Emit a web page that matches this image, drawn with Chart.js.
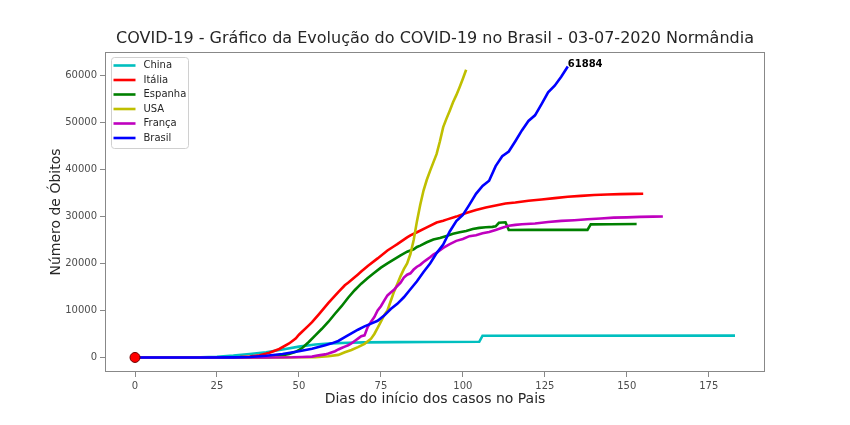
<!DOCTYPE html>
<html>
<head>
<meta charset="utf-8">
<script src="https://cdn.jsdelivr.net/npm/chart.js@4/dist/chart.umd.min.js"></script>
<style>
  html, body { margin: 0; padding: 0; background: #fff; }
  #wrap { width: 850px; height: 425px; }
</style>
</head>
<body>
<div id="wrap"><canvas id="myChart" width="850" height="425"></canvas></div>
<script>
const chartTitle = 'COVID-19 - Gráfico da Evolução do COVID-19 no Brasil - 03-07-2020 Normândia'
const xTicks = [0, 25, 50, 75, 100, 125, 150, 175]
const yTicks = [0, 10000, 20000, 30000, 40000, 50000, 60000]

const countries = ['China', 'Itália', 'Espanha', 'USA', 'França', 'Brasil']
const colors = ['#00bfbf', '#ff0000', '#008000', '#bfbf00', '#bf00bf', '#0000ff']

// days since the first case in each country, and accumulated deaths
const chinaDays = [0, 10, 20, 25, 30, 35, 40, 45, 50, 55, 60, 65, 70, 80, 90, 105, 106, 183]
const chinaDeaths = [0, 5, 30, 150, 400, 750, 1100, 1700, 2300, 2750, 3000, 3120, 3200, 3260, 3300, 3340, 4632, 4634]

const italyDays = [0, 21, 25, 29, 32, 35, 38, 41, 44, 47, 49, 50, 53, 54, 56, 59, 62, 64, 65, 68, 69, 71, 74, 77, 79, 80, 83, 84, 86, 89, 92, 94, 95, 98, 101, 104, 107, 110, 113, 116, 120, 124, 128, 132, 136, 140, 144, 148, 152, 155]
const italyDeaths = [0, 1, 7, 29, 80, 200, 460, 1020, 1810, 2980, 4030, 4830, 6820, 7500, 9130, 11590, 13920, 15360, 15890, 17670, 18280, 19470, 21070, 22750, 23660, 24110, 25550, 25970, 26640, 27680, 28710, 29080, 29320, 29960, 30740, 31370, 31910, 32330, 32740, 32960, 33340, 33600, 33900, 34170, 34370, 34560, 34680, 34740, 34790, 34820]

const spainDays = [0, 30, 35, 40, 43, 45, 47, 49, 51, 53, 55, 57, 59, 61, 63, 65, 67, 69, 71, 73, 75, 77, 79, 81, 83, 85, 86, 87, 89, 91, 93, 95, 97, 99, 101, 103, 105, 107, 109, 110, 111, 113, 114, 120, 138, 139, 145, 153]
const spainDeaths = [0, 0, 5, 35, 200, 450, 750, 1200, 2000, 3300, 4700, 6100, 7600, 9300, 10900, 12700, 14300, 15700, 16900, 18000, 19100, 20000, 20850, 21700, 22500, 23000, 23500, 23800, 24500, 25100, 25430, 25860, 26300, 26620, 26920, 27320, 27560, 27710, 27780, 27890, 28650, 28750, 27120, 27130, 27136, 28315, 28340, 28385]

const usaDays = [0, 38, 45, 50, 55, 59, 62, 64, 66, 68, 70, 72, 73, 74, 75, 76, 77, 78, 79, 80, 81, 82, 83, 84, 85, 86, 87, 88, 89, 90, 91, 92, 93, 94, 95, 96, 97, 98, 99, 100, 101]
const usaDeaths = [0, 0, 10, 30, 70, 250, 550, 1100, 1600, 2200, 2900, 4000, 5000, 6300, 7600, 9000, 10000, 12000, 14000, 15600, 17300, 18800, 20000, 22000, 25000, 29000, 32500, 35500, 37800, 39700, 41500, 43300, 46000, 49000, 50800, 52500, 54300, 55800, 57500, 59300, 61200]

const franceDays = [0, 22, 40, 48, 51, 54, 56, 58, 59, 61, 62, 63, 64, 65, 66, 67, 68, 69, 70, 71, 72, 73, 74, 75, 76, 77, 78, 79, 80, 81, 82, 83, 84, 85, 86, 87, 88, 89, 90, 91, 92, 94, 96, 98, 100, 102, 104, 106, 108, 110, 112, 114, 116, 118, 122, 126, 130, 134, 138, 142, 146, 150, 154, 158, 161]
const franceDeaths = [0, 1, 2, 30, 90, 175, 450, 650, 860, 1330, 1700, 2000, 2300, 2600, 3000, 3500, 4000, 4500, 4700, 6500, 7600, 8600, 10000, 10900, 12100, 13200, 13800, 14400, 15200, 15900, 17000, 17600, 17900, 18700, 19300, 19700, 20300, 20800, 21300, 21900, 22300, 23300, 24100, 24800, 25200, 25800, 26000, 26400, 26700, 27100, 27600, 28000, 28200, 28350, 28500, 28800, 29050, 29200, 29400, 29550, 29750, 29800, 29900, 29950, 30000]

const brazilDays = [0, 20, 30, 35, 40, 45, 50, 54, 58, 60, 62, 64, 66, 68, 70, 72, 74, 76, 78, 80, 82, 84, 86, 88, 90, 92, 94, 96, 98, 100, 102, 104, 106, 108, 110, 112, 114, 116, 118, 120, 122, 124, 126, 128, 130, 132]
const brazilDeaths = [0, 0, 20, 100, 350, 750, 1300, 1850, 2600, 3000, 3500, 4300, 5100, 5900, 6600, 7200, 7800, 8900, 10300, 11400, 12800, 14500, 16200, 18200, 20000, 22200, 24000, 26800, 29000, 30300, 32500, 34800, 36500, 37600, 40700, 42800, 43800, 46000, 48300, 50300, 51500, 53900, 56400, 57800, 59700, 61884]

const allDays = [chinaDays, italyDays, spainDays, usaDays, franceDays, brazilDays]
const allDeaths = [chinaDeaths, italyDeaths, spainDeaths, usaDeaths, franceDeaths, brazilDeaths]

const font = "'DejaVu Sans', sans-serif"

const datasets = countries.map((name, i) => ({
  label: name,
  data: allDays[i].map((d, k) => ({ x: d, y: allDeaths[i][k] })),
  borderColor: colors[i],
  backgroundColor: colors[i],
  borderWidth: 2.6,
  pointRadius: 0,
  tension: 0,
  fill: false,
  order: countries.length - i
}))

// marker at the origin
datasets.push({
  label: 'inicio',
  data: [{ x: 0, y: 0 }],
  showLine: false,
  pointRadius: 5,
  pointBackgroundColor: '#ff0000',
  pointBorderColor: '#6b0000',
  pointBorderWidth: 1,
  order: 0
})

const extras = {
  id: 'extras',
  afterDatasetsDraw(chart) {
    const { ctx, chartArea, scales } = chart
    ctx.save()
    // frame
    ctx.strokeStyle = '#888'
    ctx.lineWidth = 1
    ctx.strokeRect(chartArea.left + 0.5, chartArea.top + 0.5, chartArea.right - chartArea.left - 1, chartArea.bottom - chartArea.top - 1)

    // title, centred over the plot
    ctx.fillStyle = '#262626'
    ctx.font = '16px ' + font
    ctx.textAlign = 'center'
    ctx.textBaseline = 'middle'
    ctx.fillText(chartTitle, (chartArea.left + chartArea.right) / 2, 39)

    // last value of Brasil
    const lastDay = brazilDays[brazilDays.length - 1]
    const lastVal = brazilDeaths[brazilDeaths.length - 1]
    ctx.fillStyle = '#000'
    ctx.font = 'bold 10px ' + font
    ctx.textAlign = 'left'
    ctx.textBaseline = 'alphabetic'
    ctx.fillText(String(lastVal), scales.x.getPixelForValue(lastDay), scales.y.getPixelForValue(lastVal))

    // legend
    const lx = chartArea.left + 6.5, ly = chartArea.top + 5.5
    const lw = 77, lh = 91
    ctx.fillStyle = 'rgba(255,255,255,0.8)'
    ctx.strokeStyle = '#d0d0d0'
    ctx.beginPath()
    ctx.roundRect(lx, ly, lw, lh, 3)
    ctx.fill()
    ctx.stroke()
    ctx.font = '10px ' + font
    ctx.textBaseline = 'middle'
    countries.forEach((name, i) => {
      const y = ly + 8 + i * 14.5
      ctx.strokeStyle = colors[i]
      ctx.lineWidth = 2.6
      ctx.beginPath()
      ctx.moveTo(lx + 2, y)
      ctx.lineTo(lx + 24, y)
      ctx.stroke()
      ctx.fillStyle = '#262626'
      ctx.fillText(name, lx + 32, y)
    })
    ctx.restore()
  }
}

new Chart(document.getElementById('myChart'), {
  type: 'line',
  data: { datasets },
  options: {
    responsive: false,
    animation: false,
    layout: { padding: { left: 0, right: 85, top: 52, bottom: 0 } },
    plugins: {
      legend: { display: false },
      tooltip: { enabled: false },
      title: { display: false }
    },
    scales: {
      x: {
        type: 'linear',
        min: -9.15,
        max: 192.15,
        afterBuildTicks: s => { s.ticks = xTicks.map(v => ({ value: v })) },
        afterFit: s => { s.height = 53 },
        border: { display: false },
        grid: { drawOnChartArea: false, drawTicks: true, tickLength: 5, color: '#888' },
        ticks: { color: '#4d4d4d', font: { family: font, size: 10 }, padding: 3, maxRotation: 0 },
        title: {
          display: true,
          text: 'Dias do início dos casos no Pais',
          color: '#262626',
          font: { family: font, size: 14 },
          padding: { top: 2, bottom: 17 }
        }
      },
      y: {
        min: -3094,
        max: 64978,
        afterBuildTicks: s => { s.ticks = yTicks.map(v => ({ value: v })) },
        afterFit: s => { s.width = 105 },
        border: { display: false },
        grid: { drawOnChartArea: false, drawTicks: true, tickLength: 5, color: '#888' },
        ticks: { color: '#4d4d4d', font: { family: font, size: 10 }, padding: 3, callback: v => String(v) },
        title: {
          display: true,
          text: 'Número de Óbitos',
          color: '#262626',
          font: { family: font, size: 14 },
          padding: { top: 48, bottom: 0 }
        }
      }
    }
  },
  plugins: [extras]
})
</script>
</body>
</html>
